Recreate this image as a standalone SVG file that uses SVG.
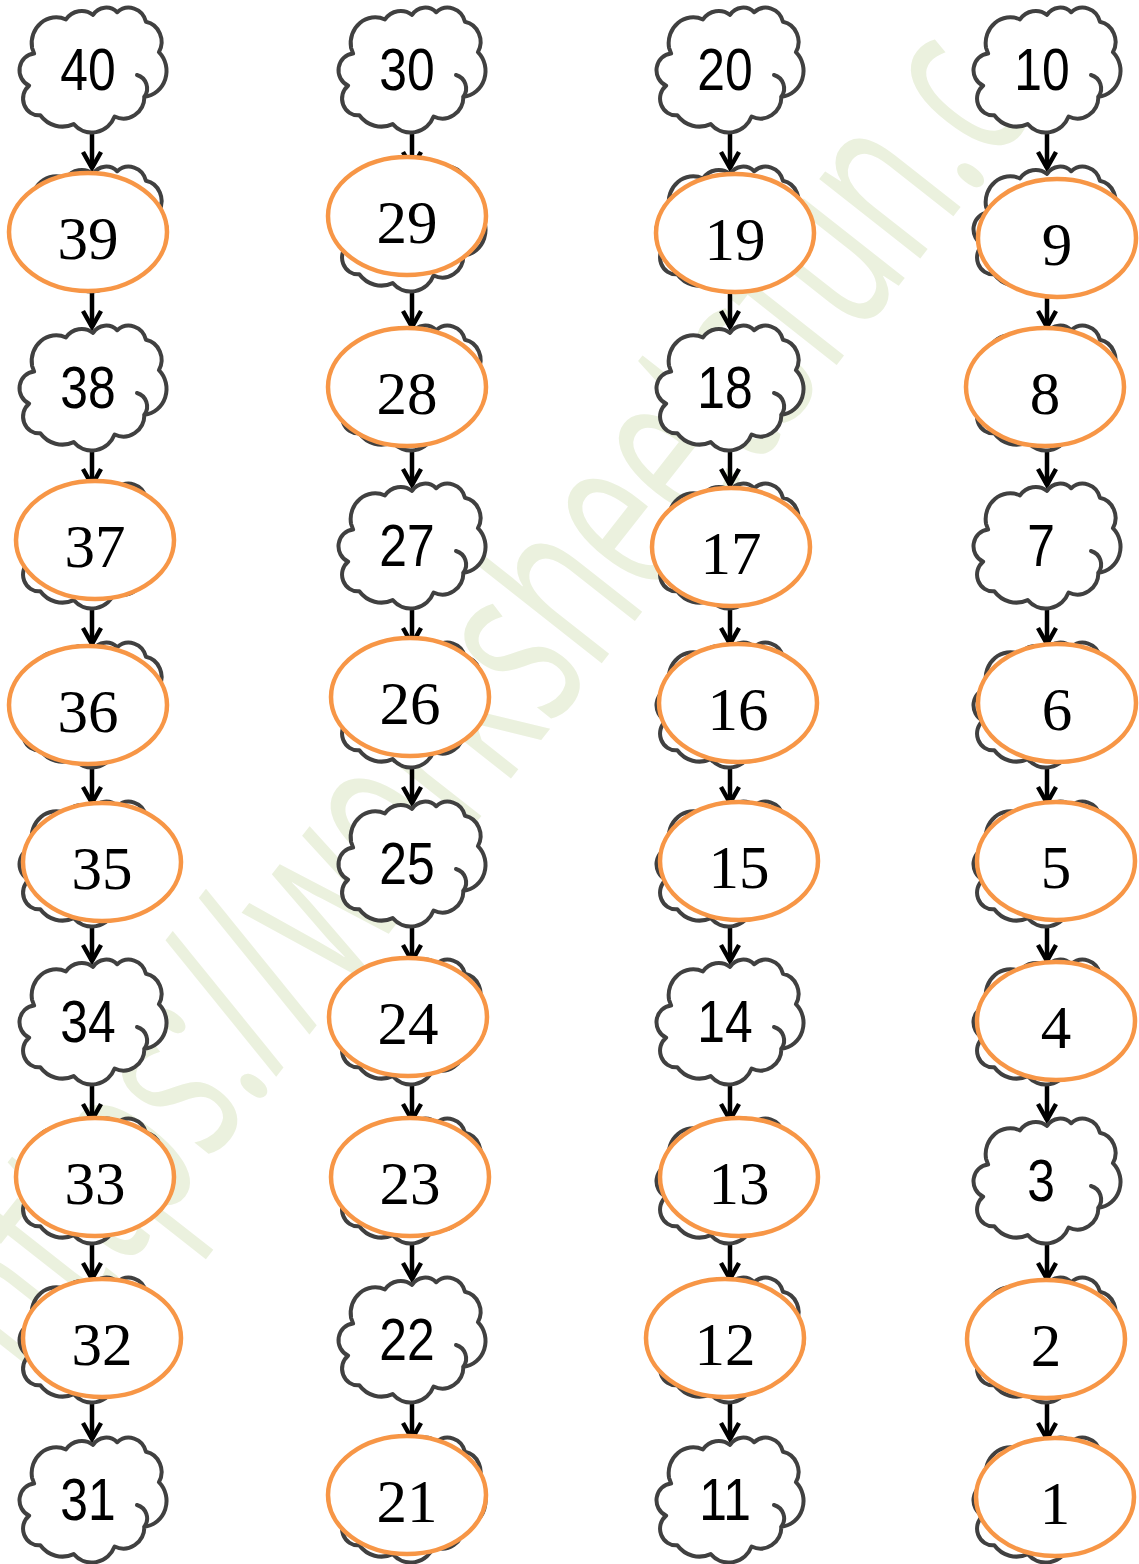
<svg xmlns="http://www.w3.org/2000/svg" xmlns:xlink="http://www.w3.org/1999/xlink" width="1139" height="1564" viewBox="0 0 1139 1564">
<style>
.cl{fill:#fff;stroke:#404040;stroke-width:4;stroke-linejoin:round}
.curl{fill:none;stroke:#404040;stroke-width:4;stroke-linecap:round}
.el{fill:#fff;stroke:#F79646;stroke-width:4.5}
.ct{font-family:"Liberation Sans",Arial,sans-serif;font-size:60px;text-anchor:middle;fill:#000}
.et{font-family:"Liberation Serif","Times New Roman",serif;font-size:61px;text-anchor:middle;fill:#000}
.wm{font-family:"Open Sans","Liberation Sans",sans-serif;font-size:240px;fill:#EBF1DE}
.ar{stroke:#000;stroke-width:4.5;fill:none;marker-end:url(#ah)}
</style>
<defs>
<marker id="ah" viewBox="0 0 20 20" refX="17" refY="10" markerWidth="20" markerHeight="20" markerUnits="userSpaceOnUse" orient="auto" overflow="visible">
<path d="M1 1 L17 10 L1 19" fill="none" stroke="#000" stroke-width="4.5"/>
</marker>
<g id="cloud">
<path class="cl" d="M-60.93 -22.13 A24.58 25.83 0 0 1 -27.04 -50.55 A19.41 20.42 0 0 1 0.04 -55.13 A15.89 16.7 0 0 1 24.2 -57.77 A17.67 18.53 0 0 1 52.96 -48.19 A19.41 20.44 0 0 1 65.91 -17.83 A24.66 25.91 0 0 1 51.44 26.67 A21.06 22.11 0 0 1 21.59 46.51 A24.58 25.9 0 0 1 -19.27 54.08 A28.1 29.62 0 0 1 -52.71 45.23 A15.86 16.63 0 0 1 -63.89 15.59 A15.81 16.7 0 0 1 -58.85 -16.43 Z"/>
<path class="curl" d="M44 5 A14 14 0 0 1 51.44 26.67"/>
</g>
</defs>
<rect width="1139" height="1564" fill="#fff"/>
<text class="wm" transform="translate(33,1386) rotate(-51.8) scale(0.61,1)">https://worksheetsfun.c</text>
<g id="connectors">
<path class="ar" d="M92 132V168"/><path class="ar" d="M92 291V327"/><path class="ar" d="M92 450V485"/><path class="ar" d="M92 608V644"/><path class="ar" d="M92 767V803"/><path class="ar" d="M92 926V961"/><path class="ar" d="M92 1084V1120"/><path class="ar" d="M92 1243V1279"/><path class="ar" d="M92 1402V1439"/>
<path class="ar" d="M412 132V168"/><path class="ar" d="M412 291V327"/><path class="ar" d="M412 450V485"/><path class="ar" d="M412 608V644"/><path class="ar" d="M412 767V803"/><path class="ar" d="M412 926V961"/><path class="ar" d="M412 1084V1120"/><path class="ar" d="M412 1243V1279"/><path class="ar" d="M412 1402V1439"/>
<path class="ar" d="M730 132V168"/><path class="ar" d="M730 291V327"/><path class="ar" d="M730 450V485"/><path class="ar" d="M730 608V644"/><path class="ar" d="M730 767V803"/><path class="ar" d="M730 926V961"/><path class="ar" d="M730 1084V1120"/><path class="ar" d="M730 1243V1279"/><path class="ar" d="M730 1402V1439"/>
<path class="ar" d="M1047 132V168"/><path class="ar" d="M1047 291V327"/><path class="ar" d="M1047 450V485"/><path class="ar" d="M1047 608V644"/><path class="ar" d="M1047 767V803"/><path class="ar" d="M1047 926V961"/><path class="ar" d="M1047 1084V1120"/><path class="ar" d="M1047 1243V1279"/><path class="ar" d="M1047 1402V1439"/>
</g>
<!-- column 1 -->
<g id="n40"><use xlink:href="#cloud" transform="translate(93,70)"/><text class="ct" transform="translate(88,90) scale(0.83,1)">40</text></g>
<g id="n39"><use xlink:href="#cloud" transform="translate(93,229)"/><ellipse class="el" cx="88" cy="232" rx="79" ry="59"/><text class="et" x="88" y="259">39</text></g>
<g id="n38"><use xlink:href="#cloud" transform="translate(93,388)"/><text class="ct" transform="translate(88,408) scale(0.83,1)">38</text></g>
<g id="n37"><use xlink:href="#cloud" transform="translate(93,546)"/><ellipse class="el" cx="95" cy="540" rx="79" ry="59"/><text class="et" x="95" y="567">37</text></g>
<g id="n36"><use xlink:href="#cloud" transform="translate(93,705)"/><ellipse class="el" cx="88" cy="705" rx="79" ry="59"/><text class="et" x="88" y="732">36</text></g>
<g id="n35"><use xlink:href="#cloud" transform="translate(93,864)"/><ellipse class="el" cx="102" cy="862" rx="79" ry="59"/><text class="et" x="102" y="889">35</text></g>
<g id="n34"><use xlink:href="#cloud" transform="translate(93,1022)"/><text class="ct" transform="translate(88,1042) scale(0.83,1)">34</text></g>
<g id="n33"><use xlink:href="#cloud" transform="translate(93,1181)"/><ellipse class="el" cx="95" cy="1177" rx="79" ry="59"/><text class="et" x="95" y="1204">33</text></g>
<g id="n32"><use xlink:href="#cloud" transform="translate(93,1340)"/><ellipse class="el" cx="102" cy="1338" rx="79" ry="59"/><text class="et" x="102" y="1365">32</text></g>
<g id="n31"><use xlink:href="#cloud" transform="translate(93,1500)"/><text class="ct" transform="translate(88,1520) scale(0.83,1)">31</text></g>
<!-- column 2 -->
<g id="n30"><use xlink:href="#cloud" transform="translate(412,70)"/><text class="ct" transform="translate(407,90) scale(0.83,1)">30</text></g>
<g id="n29"><use xlink:href="#cloud" transform="translate(412,229)"/><ellipse class="el" cx="407" cy="216" rx="79" ry="59"/><text class="et" x="407" y="243">29</text></g>
<g id="n28"><use xlink:href="#cloud" transform="translate(412,388)"/><ellipse class="el" cx="407" cy="387" rx="79" ry="59"/><text class="et" x="407" y="414">28</text></g>
<g id="n27"><use xlink:href="#cloud" transform="translate(412,546)"/><text class="ct" transform="translate(407,566) scale(0.83,1)">27</text></g>
<g id="n26"><use xlink:href="#cloud" transform="translate(412,705)"/><ellipse class="el" cx="410" cy="697" rx="79" ry="59"/><text class="et" x="410" y="724">26</text></g>
<g id="n25"><use xlink:href="#cloud" transform="translate(412,864)"/><text class="ct" transform="translate(407,884) scale(0.83,1)">25</text></g>
<g id="n24"><use xlink:href="#cloud" transform="translate(412,1022)"/><ellipse class="el" cx="408" cy="1017" rx="79" ry="59"/><text class="et" x="408" y="1044">24</text></g>
<g id="n23"><use xlink:href="#cloud" transform="translate(412,1181)"/><ellipse class="el" cx="410" cy="1177" rx="79" ry="59"/><text class="et" x="410" y="1204">23</text></g>
<g id="n22"><use xlink:href="#cloud" transform="translate(412,1340)"/><text class="ct" transform="translate(407,1360) scale(0.83,1)">22</text></g>
<g id="n21"><use xlink:href="#cloud" transform="translate(412,1500)"/><ellipse class="el" cx="407" cy="1495" rx="79" ry="59"/><text class="et" x="407" y="1522">21</text></g>
<!-- column 3 -->
<g id="n20"><use xlink:href="#cloud" transform="translate(730,70)"/><text class="ct" transform="translate(725,90) scale(0.83,1)">20</text></g>
<g id="n19"><use xlink:href="#cloud" transform="translate(730,229)"/><ellipse class="el" cx="735" cy="233" rx="79" ry="59"/><text class="et" x="735" y="260">19</text></g>
<g id="n18"><use xlink:href="#cloud" transform="translate(730,388)"/><text class="ct" transform="translate(725,408) scale(0.83,1)">18</text></g>
<g id="n17"><use xlink:href="#cloud" transform="translate(730,546)"/><ellipse class="el" cx="731" cy="547" rx="79" ry="59"/><text class="et" x="731" y="574">17</text></g>
<g id="n16"><use xlink:href="#cloud" transform="translate(730,705)"/><ellipse class="el" cx="738" cy="703" rx="79" ry="59"/><text class="et" x="738" y="730">16</text></g>
<g id="n15"><use xlink:href="#cloud" transform="translate(730,864)"/><ellipse class="el" cx="739" cy="861" rx="79" ry="59"/><text class="et" x="739" y="888">15</text></g>
<g id="n14"><use xlink:href="#cloud" transform="translate(730,1022)"/><text class="ct" transform="translate(725,1042) scale(0.83,1)">14</text></g>
<g id="n13"><use xlink:href="#cloud" transform="translate(730,1181)"/><ellipse class="el" cx="739" cy="1177" rx="79" ry="59"/><text class="et" x="739" y="1204">13</text></g>
<g id="n12"><use xlink:href="#cloud" transform="translate(730,1340)"/><ellipse class="el" cx="725" cy="1338" rx="79" ry="59"/><text class="et" x="725" y="1365">12</text></g>
<g id="n11"><use xlink:href="#cloud" transform="translate(730,1500)"/><text class="ct" transform="translate(725,1520) scale(0.83,1)">11</text></g>
<!-- column 4 -->
<g id="n10"><use xlink:href="#cloud" transform="translate(1047,70)"/><text class="ct" transform="translate(1042,90) scale(0.83,1)">10</text></g>
<g id="n9"><use xlink:href="#cloud" transform="translate(1047,229)"/><ellipse class="el" cx="1057" cy="238" rx="79" ry="59"/><text class="et" x="1057" y="265">9</text></g>
<g id="n8"><use xlink:href="#cloud" transform="translate(1047,388)"/><ellipse class="el" cx="1045" cy="387" rx="79" ry="59"/><text class="et" x="1045" y="414">8</text></g>
<g id="n7"><use xlink:href="#cloud" transform="translate(1047,546)"/><text class="ct" transform="translate(1041,566) scale(0.83,1)">7</text></g>
<g id="n6"><use xlink:href="#cloud" transform="translate(1047,705)"/><ellipse class="el" cx="1057" cy="703" rx="79" ry="59"/><text class="et" x="1057" y="730">6</text></g>
<g id="n5"><use xlink:href="#cloud" transform="translate(1047,864)"/><ellipse class="el" cx="1056" cy="861" rx="79" ry="59"/><text class="et" x="1056" y="888">5</text></g>
<g id="n4"><use xlink:href="#cloud" transform="translate(1047,1022)"/><ellipse class="el" cx="1056" cy="1021" rx="79" ry="59"/><text class="et" x="1056" y="1048">4</text></g>
<g id="n3"><use xlink:href="#cloud" transform="translate(1047,1181)"/><text class="ct" transform="translate(1041,1201) scale(0.83,1)">3</text></g>
<g id="n2"><use xlink:href="#cloud" transform="translate(1047,1340)"/><ellipse class="el" cx="1046" cy="1339" rx="79" ry="59"/><text class="et" x="1046" y="1366">2</text></g>
<g id="n1"><use xlink:href="#cloud" transform="translate(1047,1500)"/><ellipse class="el" cx="1055" cy="1497" rx="79" ry="59"/><text class="et" x="1055" y="1524">1</text></g>
</svg>
